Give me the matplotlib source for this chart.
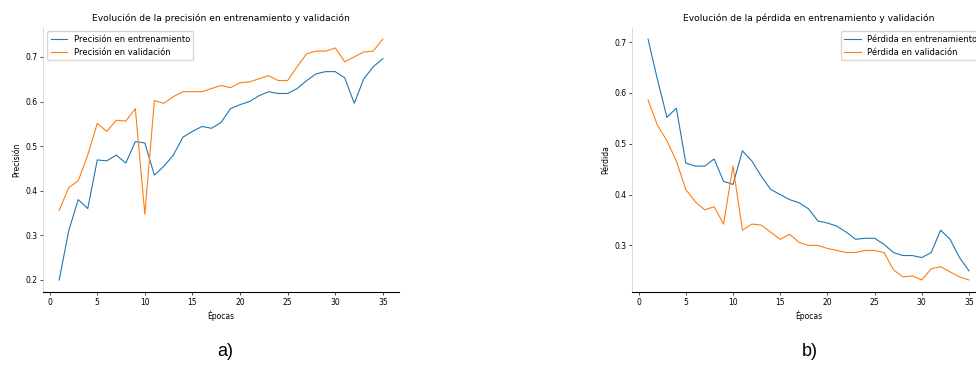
import matplotlib.pyplot as plt
import numpy as np

# epochs 1..35
epocas = np.arange(1, 36)

prec_entrenamiento = [
    0.20, 0.31, 0.38, 0.36, 0.469, 0.467, 0.48, 0.462, 0.51, 0.507,
    0.435, 0.455, 0.48, 0.52, 0.533, 0.544, 0.54, 0.553, 0.584, 0.593,
    0.60, 0.613, 0.622, 0.618, 0.618, 0.629, 0.647, 0.662, 0.667, 0.667,
    0.653, 0.596, 0.651, 0.678, 0.696,
]
prec_validacion = [
    0.356, 0.407, 0.422, 0.48, 0.551, 0.533, 0.558, 0.556, 0.584, 0.347,
    0.602, 0.596, 0.611, 0.622, 0.622, 0.622, 0.629, 0.636, 0.631, 0.642,
    0.644, 0.651, 0.658, 0.647, 0.647, 0.678, 0.707, 0.713, 0.713, 0.72,
    0.689, 0.70, 0.711, 0.713, 0.74,
]
perd_entrenamiento = [
    0.706, 0.626, 0.552, 0.57, 0.462, 0.456, 0.456, 0.47, 0.426, 0.42,
    0.486, 0.466, 0.436, 0.41, 0.40, 0.39, 0.384, 0.372, 0.348, 0.344,
    0.338, 0.326, 0.312, 0.314, 0.314, 0.302, 0.286, 0.28, 0.28, 0.276,
    0.286, 0.33, 0.312, 0.276, 0.25,
]
perd_validacion = [
    0.586, 0.536, 0.506, 0.466, 0.41, 0.386, 0.37, 0.376, 0.342, 0.456,
    0.33, 0.342, 0.34, 0.326, 0.312, 0.322, 0.306, 0.30, 0.30, 0.294,
    0.29, 0.286, 0.286, 0.29, 0.29, 0.286, 0.252, 0.238, 0.24, 0.232,
    0.254, 0.258, 0.248, 0.238, 0.232,
]

W, H = 976, 376
fig = plt.figure(figsize=(W / 100, H / 100), dpi=100)

def estilo(ax):
    ax.spines['top'].set_visible(False)
    ax.spines['right'].set_visible(False)
    ax.spines['left'].set_color('#cccccc')
    ax.spines['left'].set_linewidth(0.5)
    ax.spines['bottom'].set_linewidth(0.8)
    ax.tick_params(labelsize=5.5, length=2, width=0.5, pad=2)

# a) precision
ax1 = fig.add_axes([43 / W, (H - 292) / H, 356 / W, 265 / H])
ax1.plot(epocas, prec_entrenamiento, lw=0.8, label='Precisión en entrenamiento')
ax1.plot(epocas, prec_validacion, lw=0.8, label='Precisión en validación')
ax1.set_title('Evolución de la precisión en entrenamiento y validación', fontsize=6.6, pad=4)
ax1.set_xlabel('Épocas', fontsize=5.5, labelpad=3)
ax1.set_ylabel('Precisión', fontsize=5.5, labelpad=3)
ax1.set_xticks(np.arange(0, 36, 5))
ax1.legend(loc='upper left', fontsize=6, frameon=True, framealpha=0.8)
estilo(ax1)

# b) loss (axes runs past the right edge, as in the reference)
ax2 = fig.add_axes([632 / W, (H - 292) / H, 353 / W, 265 / H])
ax2.plot(epocas, perd_entrenamiento, lw=0.8, label='Pérdida en entrenamiento')
ax2.plot(epocas, perd_validacion, lw=0.8, label='Pérdida en validación')
ax2.set_title('Evolución de la pérdida en entrenamiento y validación', fontsize=6.6, pad=4)
ax2.set_xlabel('Épocas', fontsize=5.5, labelpad=3)
ax2.set_ylabel('Pérdida', fontsize=5.5, labelpad=3)
ax2.set_xticks(np.arange(0, 36, 5))
ax2.legend(loc='upper right', fontsize=6, frameon=True, framealpha=0.8)
estilo(ax2)

fig.text(225 / W, 1 - 352 / H, 'a)', fontsize=13, family='Liberation Sans', ha='center', va='center')
fig.text(810 / W, 1 - 352 / H, 'b)', fontsize=13, family='Liberation Sans', ha='center', va='center')

fig.savefig('out.png', dpi=100)
